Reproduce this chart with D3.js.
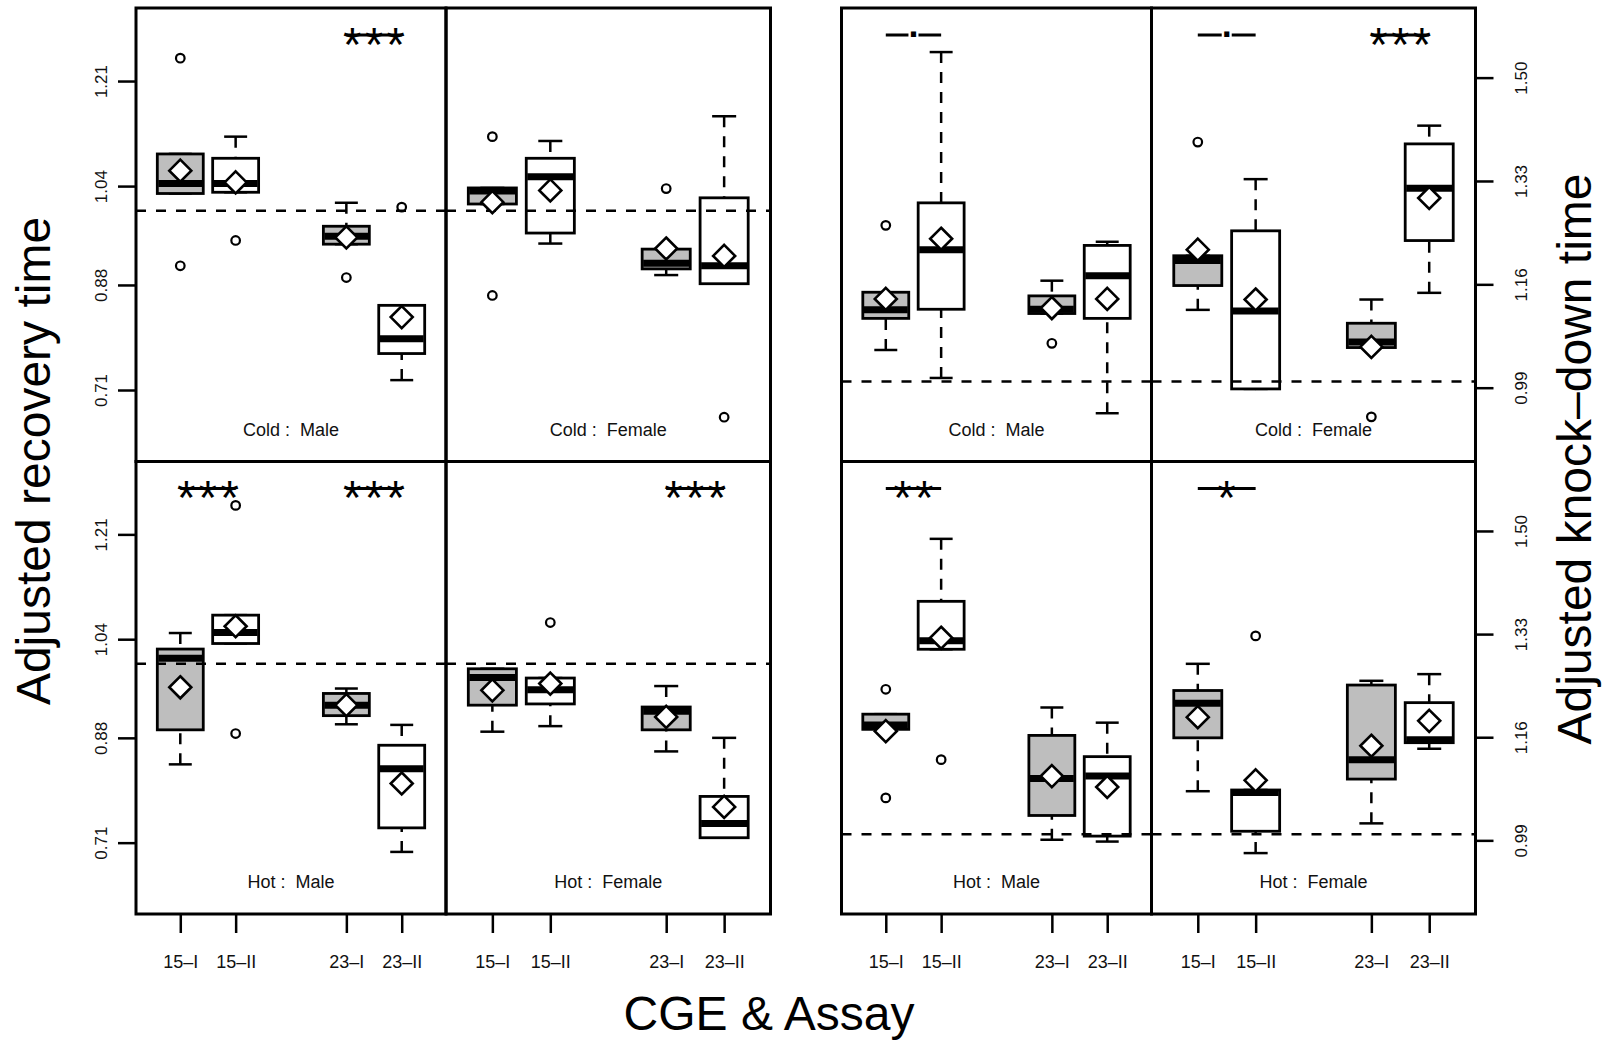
<!DOCTYPE html>
<html>
<head>
<meta charset="utf-8">
<script src="https://cdn.jsdelivr.net/npm/d3@7"></script>
<style>
  html, body { margin: 0; padding: 0; background: #fff; }
  svg { display: block; }
</style>
</head>
<body>
<script>
// ---------------- DATA ----------------
const cgeLabels = ["15–I", "15–II", "23–I", "23–II"];
const slots = [1, 2, 4, 5];
const panelNames = ["Cold :  Male", "Cold :  Female", "Hot :  Male", "Hot :  Female"];
const recTicks = [0.71, 0.88, 1.04, 1.21];
const kdTicks = [0.99, 1.16, 1.33, 1.50];
const referenceValue = 1.0;

// each row: [lowerWhisker, Q1, median, Q3, upperWhisker, mean]
const recColdMale = [
  [1.028, 1.028, 1.044, 1.092, 1.092, 1.065],
  [1.030, 1.030, 1.044, 1.085, 1.120, 1.046],
  [0.946, 0.946, 0.959, 0.975, 1.013, 0.957],
  [0.726, 0.769, 0.793, 0.847, 0.847, 0.828]
];
const recColdMaleOut = [[1.247, 0.911], [0.952], [0.892], [1.006]];

const recColdFemale = [
  [1.011, 1.011, 1.032, 1.037, 1.037, 1.014],
  [0.947, 0.964, 1.055, 1.085, 1.113, 1.033],
  [0.896, 0.906, 0.915, 0.938, 0.938, 0.939],
  [0.882, 0.882, 0.911, 1.021, 1.153, 0.927]
];
const recColdFemaleOut = [[1.120, 0.863], [], [1.036], [0.666]];

const recHotMale = [
  [0.837, 0.893, 1.009, 1.024, 1.050, 0.962],
  [1.033, 1.033, 1.051, 1.079, 1.079, 1.061],
  [0.902, 0.916, 0.933, 0.952, 0.960, 0.933],
  [0.695, 0.734, 0.830, 0.868, 0.901, 0.806]
];
const recHotMaleOut = [[], [1.257, 0.887], [], []];

const recHotFemale = [
  [0.890, 0.933, 0.978, 0.992, 0.992, 0.957],
  [0.899, 0.935, 0.958, 0.977, 0.977, 0.968],
  [0.858, 0.893, 0.923, 0.930, 0.964, 0.914],
  [0.718, 0.718, 0.741, 0.785, 0.880, 0.768]
];
const recHotFemaleOut = [[], [1.067], [], []];

const kdColdMale = [
  [1.052, 1.104, 1.118, 1.147, 1.147, 1.136],
  [1.006, 1.119, 1.217, 1.294, 1.542, 1.235],
  [1.112, 1.112, 1.119, 1.141, 1.166, 1.121],
  [0.948, 1.104, 1.174, 1.224, 1.230, 1.136]
];
const kdColdMaleOut = [[1.257], [], [1.063], []];

const kdColdFemale = [
  [1.118, 1.158, 1.199, 1.207, 1.207, 1.217],
  [0.988, 0.988, 1.116, 1.248, 1.333, 1.135],
  [1.056, 1.056, 1.065, 1.096, 1.135, 1.057],
  [1.146, 1.232, 1.318, 1.391, 1.421, 1.302]
];
const kdColdFemaleOut = [[1.394], [], [0.942], []];

const kdHotMale = [
  [1.173, 1.173, 1.180, 1.198, 1.198, 1.170],
  [1.305, 1.305, 1.319, 1.384, 1.487, 1.324],
  [0.991, 1.031, 1.092, 1.163, 1.209, 1.096],
  [0.988, 0.997, 1.096, 1.128, 1.184, 1.078]
];
const kdHotMaleOut = [[1.239, 1.060], [1.123], [], []];

const kdHotFemale = [
  [1.071, 1.159, 1.216, 1.237, 1.281, 1.193],
  [0.969, 1.005, 1.069, 1.073, 1.073, 1.089],
  [1.018, 1.091, 1.123, 1.246, 1.253, 1.146],
  [1.141, 1.151, 1.156, 1.217, 1.264, 1.187]
];
const kdHotFemaleOut = [[], [1.327], [], []];

// significance: [panelIndex, fromBox, toBox, label]
const recSig = [[0, 2, 3, "***"], [2, 0, 1, "***"], [2, 2, 3, "***"], [3, 2, 3, "***"]];
const kdSig = [[0, 0, 1, "."], [1, 0, 1, "."], [1, 2, 3, "***"], [2, 0, 1, "**"], [3, 0, 1, "*"]];

// ---------------- LAYOUT ----------------
const FONT = '"Liberation Sans", Arial, Helvetica, sans-serif';
const W = 1608, H = 1044;
const groupX = [[136, 446, 770.5], [841.5, 1151.5, 1475.5]];
const rowY = [8, 461.5, 914];
const yDomains = [[0.5943, 1.3282], [0.8686, 1.6145]];
const boxFills = ["#bebebe", "#ffffff", "#bebebe", "#ffffff"];

const svg = d3.select("body").append("svg")
  .attr("width", W).attr("height", H)
  .style("font-family", FONT);
svg.append("rect").attr("width", W).attr("height", H).attr("fill", "#fff");

const groupsData = [
  { stats: [recColdMale, recColdFemale, recHotMale, recHotFemale],
    outs: [recColdMaleOut, recColdFemaleOut, recHotMaleOut, recHotFemaleOut],
    sig: recSig, ticks: recTicks },
  { stats: [kdColdMale, kdColdFemale, kdHotMale, kdHotFemale],
    outs: [kdColdMaleOut, kdColdFemaleOut, kdHotMaleOut, kdHotFemaleOut],
    sig: kdSig, ticks: kdTicks }
];

function scalesFor(g, r, c) {
  const xs = d3.scaleLinear().domain([0.2, 5.8]).range([groupX[g][c], groupX[g][c + 1]]);
  const ys = d3.scaleLinear().domain(yDomains[g]).range([rowY[r + 1], rowY[r]]);
  return { xs, ys };
}

const frames = svg.append("g");

groupsData.forEach((G, g) => {
  for (let r = 0; r < 2; r++) {
    for (let c = 0; c < 2; c++) {
      const p = r * 2 + c;
      const { xs, ys } = scalesFor(g, r, c);
      const stats = G.stats[p];
      const outs = G.outs[p];
      const layer = svg.append("g");
      const bw = xs(1.83) - xs(1);
      const cw = bw / 2;

      // whiskers
      stats.forEach((s, i) => {
        const cx = xs(slots[i]);
        [[s[4], s[3]], [s[0], s[1]]].forEach(([w, h]) => {
          layer.append("line")
            .attr("x1", cx).attr("x2", cx)
            .attr("y1", ys(w)).attr("y2", ys(h))
            .attr("stroke", "#000").attr("stroke-width", 2.5)
            .attr("stroke-dasharray", "11,9");
          layer.append("line")
            .attr("x1", cx - cw / 2).attr("x2", cx + cw / 2)
            .attr("y1", ys(w)).attr("y2", ys(w))
            .attr("stroke", "#000").attr("stroke-width", 2.5);
        });
      });
      // boxes
      stats.forEach((s, i) => {
        const cx = xs(slots[i]);
        layer.append("rect")
          .attr("x", cx - bw / 2).attr("y", ys(s[3]))
          .attr("width", bw).attr("height", ys(s[1]) - ys(s[3]))
          .attr("fill", boxFills[i]).attr("stroke", "#000").attr("stroke-width", 2.8);
        layer.append("line")
          .attr("x1", cx - bw / 2 + 1).attr("x2", cx + bw / 2 - 1)
          .attr("y1", ys(s[2])).attr("y2", ys(s[2]))
          .attr("stroke", "#000").attr("stroke-width", 7);
      });
      // reference line
      layer.append("line")
        .attr("x1", groupX[g][c]).attr("x2", groupX[g][c + 1])
        .attr("y1", ys(referenceValue)).attr("y2", ys(referenceValue))
        .attr("stroke", "#000").attr("stroke-width", 2.5)
        .attr("stroke-dasharray", "10,10");
      // outliers
      outs.forEach((o, i) => {
        o.forEach(v => {
          layer.append("circle")
            .attr("cx", xs(slots[i])).attr("cy", ys(v)).attr("r", 4.3)
            .attr("fill", "none").attr("stroke", "#000").attr("stroke-width", 2.2);
        });
      });
      // means
      stats.forEach((s, i) => {
        const cx = xs(slots[i]), cy = ys(s[5]), d = 11;
        layer.append("path")
          .attr("d", `M${cx},${cy - d}L${cx + d},${cy}L${cx},${cy + d}L${cx - d},${cy}Z`)
          .attr("fill", "#fff").attr("stroke", "#000").attr("stroke-width", 2.6);
      });
      // significance
      G.sig.filter(sg => sg[0] === p).forEach(sg => {
        const xa = xs(slots[sg[1]]), xb = xs(slots[sg[2]]);
        const ly = rowY[r] + 27;
        layer.append("line").attr("x1", xa).attr("x2", xb).attr("y1", ly).attr("y2", ly)
          .attr("stroke", "#000").attr("stroke-width", 3);
        const isDot = sg[3] === ".";
        if (isDot) {
          const bg = layer.append("rect").attr("fill", "#fff");
          const t = layer.append("text")
            .attr("x", (xa + xb) / 2).attr("y", ly + 2)
            .attr("text-anchor", "middle")
            .attr("font-size", 36).attr("font-weight", "bold").attr("fill", "#000")
            .text(sg[3]);
          const len = t.node().getComputedTextLength();
          bg.attr("x", (xa + xb) / 2 - len / 2).attr("width", len)
            .attr("y", ly - 3).attr("height", 6);
        } else {
          layer.append("text")
            .attr("x", (xa + xb) / 2 + 1.5).attr("y", ly + 25.5)
            .attr("text-anchor", "middle")
            .attr("font-size", 48).attr("letter-spacing", 3).attr("fill", "#000")
            .text(sg[3]);
        }
      });
      // panel label
      layer.append("text")
        .attr("x", (groupX[g][c] + groupX[g][c + 1]) / 2)
        .attr("y", rowY[r + 1] - 26)
        .attr("text-anchor", "middle")
        .attr("font-size", 18).attr("fill", "#111")
        .style("white-space", "pre")
        .text(panelNames[p]);

      // frame
      frames.append("rect")
        .attr("x", groupX[g][c]).attr("y", rowY[r])
        .attr("width", groupX[g][c + 1] - groupX[g][c])
        .attr("height", rowY[r + 1] - rowY[r])
        .attr("fill", "none").attr("stroke", "#000").attr("stroke-width", 3);

      // left / right y axis
      if (g === 0 && c === 0) {
        const ax = svg.append("g").attr("transform", `translate(${groupX[0][0]},0)`)
          .call(d3.axisLeft(ys).tickValues(G.ticks).tickSize(18).tickFormat(d3.format(".2f")));
        ax.select(".domain").remove();
        ax.selectAll("line").attr("stroke", "#000").attr("stroke-width", 2.5);
        ax.selectAll("text")
          .attr("x", null).attr("dy", null).attr("y", null)
          .attr("text-anchor", "middle")
          .attr("transform", "translate(-29.5,0) rotate(-90)")
          .attr("font-size", 17).attr("font-family", FONT).attr("fill", "#111");
      }
      if (g === 1 && c === 1) {
        const ax = svg.append("g").attr("transform", `translate(${groupX[1][2]},0)`)
          .call(d3.axisRight(ys).tickValues(G.ticks).tickSize(18).tickFormat(d3.format(".2f")));
        ax.select(".domain").remove();
        ax.selectAll("line").attr("stroke", "#000").attr("stroke-width", 2.5);
        ax.selectAll("text")
          .attr("x", null).attr("dy", null).attr("y", null)
          .attr("text-anchor", "middle")
          .attr("transform", "translate(51.5,0) rotate(-90)")
          .attr("font-size", 17).attr("font-family", FONT).attr("fill", "#111");
      }
      // bottom axis
      if (r === 1) {
        const xb = d3.scaleOrdinal().domain(cgeLabels).range(slots.map(s => xs(s)));
        const ax = svg.append("g").attr("transform", `translate(0,${rowY[2]})`)
          .call(d3.axisBottom(xb).tickSize(19));
        ax.select(".domain").remove();
        ax.selectAll("line").attr("stroke", "#000").attr("stroke-width", 2.5);
        ax.selectAll("text")
          .attr("y", 54).attr("dy", null)
          .attr("font-size", 18).attr("font-family", FONT).attr("fill", "#111");
      }
    }
  }
});
frames.raise();

// axis titles
svg.append("text")
  .attr("transform", "translate(50,461) rotate(-90)")
  .attr("text-anchor", "middle").attr("font-size", 48).attr("fill", "#000")
  .text("Adjusted recovery time");
svg.append("text")
  .attr("transform", "translate(1591,459) rotate(-90)")
  .attr("text-anchor", "middle").attr("font-size", 48).attr("fill", "#000")
  .text("Adjusted knock–down time");
svg.append("text")
  .attr("x", 769).attr("y", 1030)
  .attr("text-anchor", "middle").attr("font-size", 48).attr("fill", "#000")
  .text("CGE & Assay");
</script>
</body>
</html>
